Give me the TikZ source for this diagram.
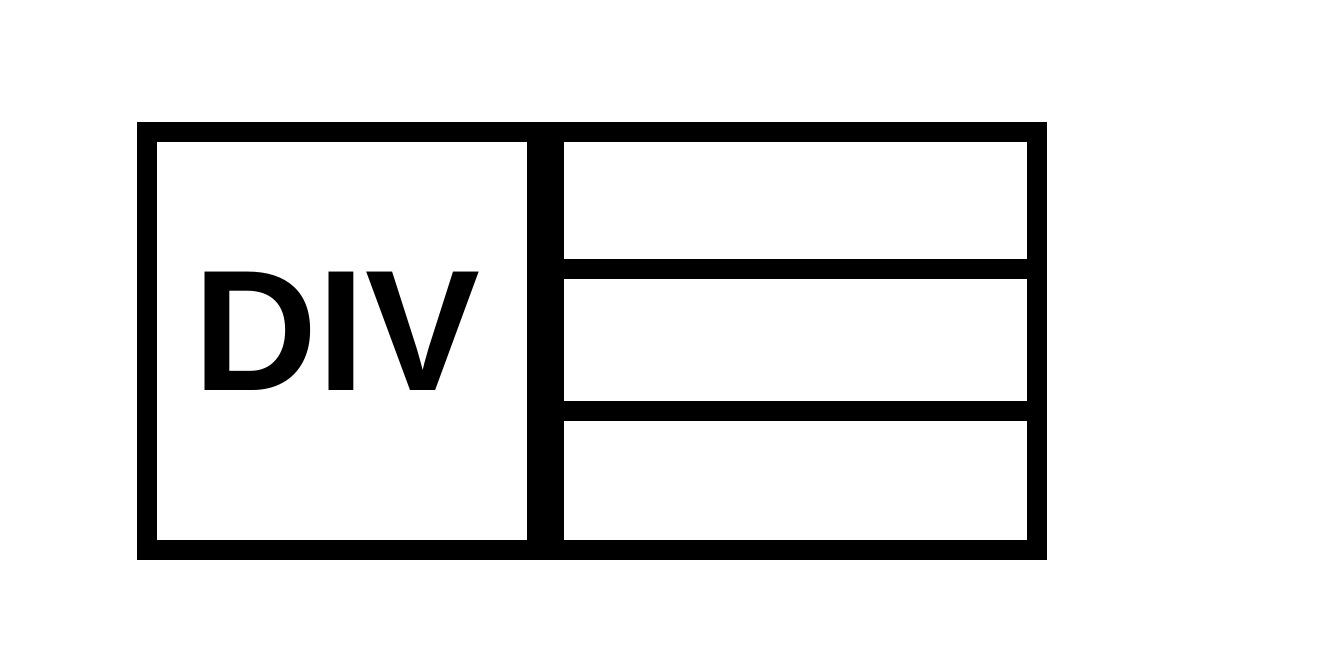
\documentclass[tikz,border=0pt]{standalone}
\usepackage{fontspec}
\setmainfont{Liberation Sans}

\begin{document}
\begin{tikzpicture}[x=0.02cm,y=-0.02cm,
  frame/.style={draw=black,line width=0.4cm},
  divbar/.style={draw=black,line width=0.74cm},
  rowbar/.style={draw=black,line width=0.4cm},
  label/.style={inner sep=0pt,anchor=base west,font=\fontsize{98}{98}\selectfont\bfseries}]
  \useasboundingbox (0,0) rectangle (1326,652);
  % outer box
  \coordinate (tl) at (147,132);
  \coordinate (br) at (1037,549.5);
  \draw[frame] (tl) rectangle (br);
  % split between label and rows
  \coordinate (st) at (545.5,132);
  \coordinate (sb) at (545.5,549.5);
  \draw[divbar] (st) -- (sb);
  % row separators
  \coordinate (r1a) at (545.5,269);
  \coordinate (r1b) at (1037,269);
  \coordinate (r2a) at (545.5,411);
  \coordinate (r2b) at (1037,411);
  \draw[rowbar] (r1a) -- (r1b);
  \draw[rowbar] (r2a) -- (r2b);
  \node[label] (div) at (193,390) {DIV};
\end{tikzpicture}
\end{document}
